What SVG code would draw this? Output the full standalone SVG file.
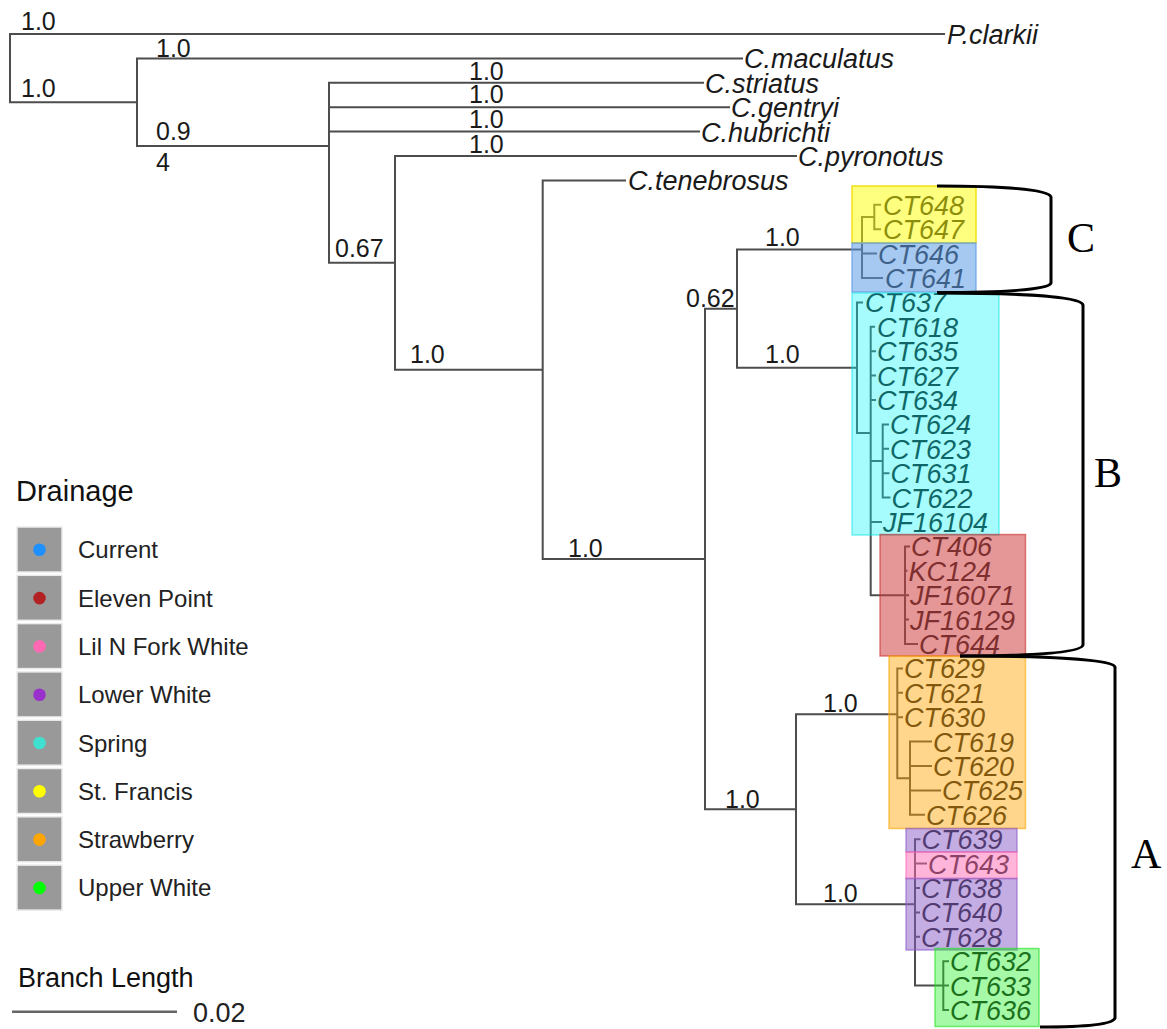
<svg xmlns="http://www.w3.org/2000/svg" width="1167" height="1029" viewBox="0 0 1167 1029">
<style>
.br{fill:none;stroke:#4d4d4d;stroke-width:2;stroke-linecap:square}
.tip{font-family:"Liberation Sans",Arial,sans-serif;font-style:italic;font-size:27px;fill:#1a1a1a}
.bs{font-family:"Liberation Sans",Arial,sans-serif;font-size:25px;fill:#1a1a1a}
.lg{font-family:"Liberation Sans",Arial,sans-serif;font-size:24px;fill:#222}
.lt{font-family:"Liberation Sans",Arial,sans-serif;font-size:29px;fill:#111}
.key{fill:#999;stroke:#ebebeb;stroke-width:1.5}
.hl{stroke-width:1.5}
.brk{fill:none;stroke:#000;stroke-width:3;stroke-linejoin:round}
.clade{font-family:"Liberation Serif","Times New Roman",serif;font-size:42px;fill:#000}
</style>
<rect width="1167" height="1029" fill="#fff"/>

<g id="connectors">
<path class="br" d="M10,34V102.26 M10,34H944 M10,102.26H137
M137,58.4V146.11 M137,58.4H742 M137,146.11H329
M329,82.8V262.83 M329,82.8H703 M329,107.2H729 M329,131.6H699 M329,262.83H395
M395,156V369.67 M395,156H796 M395,369.67H542.7
M542.7,180.4V558.93 M542.7,180.4H625 M542.7,558.93H705
M705,308.65V809.21 M705,308.65H737 M705,809.21H796
M737,249.53V367.76 M737,249.53H862 M737,367.76H857
M862,217V278 M862,217H874.3 M862,253.6H876 M862,278H882
M874.3,204.8V229.2 M874.3,204.8H880 M874.3,229.2H880
M857,302.4V433.11 M857,302.4H862 M857,433.11H870.7
M870.7,326.8V595.2 M870.7,326.8H874 M870.7,351.2H875 M870.7,375.6H875 M870.7,400H875 M870.7,461H882.7 M870.7,522H881 M870.7,595.2H905
M882.7,424.4V497.6 M882.7,424.4H888 M882.7,448.8H888 M882.7,473.2H888.5 M882.7,497.6H889.5
M905,546.4V644 M905,546.4H909 M905,570.8H906.5 M905,595.2H908 M905,619.6H908 M905,644H917
M796,714.15V904.27 M796,714.15H897.3 M796,904.27H915
M897.3,668.4V778.2 M897.3,668.4H902 M897.3,692.8H902 M897.3,717.2H902 M897.3,778.2H910
M910,741.6V814.8 M910,741.6H931 M910,766H931 M910,790.4H940 M910,814.8H924
M915,839.2V985.6 M915,839.2H919.5 M915,863.6H926 M915,888H919 M915,912.4H919 M915,936.8H919 M915,985.6H943.3
M943.3,961.2V1010 M943.3,961.2H948 M943.3,985.6H948 M943.3,1010H948"/>
</g>

<g id="support-values">
<text class="bs" x="21" y="29.5">1.0</text>
<text class="bs" x="21" y="97">1.0</text>
<text class="bs" x="156" y="56.5">1.0</text>
<text class="bs" x="156" y="139.5">0.9</text>
<text class="bs" x="156" y="171">4</text>
<text class="bs" x="469" y="80">1.0</text>
<text class="bs" x="469" y="103">1.0</text>
<text class="bs" x="469" y="127.5">1.0</text>
<text class="bs" x="469" y="152.5">1.0</text>
<text class="bs" x="335" y="257">0.67</text>
<text class="bs" x="410" y="363">1.0</text>
<text class="bs" x="568" y="556.5">1.0</text>
<text class="bs" x="686" y="306.5">0.62</text>
<text class="bs" x="765" y="246">1.0</text>
<text class="bs" x="765" y="363">1.0</text>
<text class="bs" x="823" y="711.5">1.0</text>
<text class="bs" x="725" y="808">1.0</text>
<text class="bs" x="823" y="901.5">1.0</text>
</g>

<g id="tip-P.clarkii"><text class="tip" x="947" y="44">P.clarkii</text></g>
<g id="tip-C.maculatus"><text class="tip" x="744" y="68.4">C.maculatus</text></g>
<g id="tip-C.striatus"><text class="tip" x="705" y="92.8">C.striatus</text></g>
<g id="tip-C.gentryi"><text class="tip" x="731" y="117.2">C.gentryi</text></g>
<g id="tip-C.hubrichti"><text class="tip" x="701" y="141.6">C.hubrichti</text></g>
<g id="tip-C.pyronotus"><text class="tip" x="798" y="166">C.pyronotus</text></g>
<g id="tip-C.tenebrosus"><text class="tip" x="628" y="190.4">C.tenebrosus</text></g>
<g id="tip-CT648"><text class="tip" x="883" y="214.8">CT648</text></g>
<g id="tip-CT647"><text class="tip" x="883" y="239.2">CT647</text></g>
<g id="tip-CT646"><text class="tip" x="878" y="263.6">CT646</text></g>
<g id="tip-CT641"><text class="tip" x="885" y="288">CT641</text></g>
<g id="tip-CT637"><text class="tip" x="865" y="312.4">CT637</text></g>
<g id="tip-CT618"><text class="tip" x="877" y="336.8">CT618</text></g>
<g id="tip-CT635"><text class="tip" x="877" y="361.2">CT635</text></g>
<g id="tip-CT627"><text class="tip" x="877" y="385.6">CT627</text></g>
<g id="tip-CT634"><text class="tip" x="877" y="410">CT634</text></g>
<g id="tip-CT624"><text class="tip" x="890" y="434.4">CT624</text></g>
<g id="tip-CT623"><text class="tip" x="890" y="458.8">CT623</text></g>
<g id="tip-CT631"><text class="tip" x="890.5" y="483.2">CT631</text></g>
<g id="tip-CT622"><text class="tip" x="891.5" y="507.6">CT622</text></g>
<g id="tip-JF16104"><text class="tip" x="883" y="532">JF16104</text></g>
<g id="tip-CT406"><text class="tip" x="911" y="556.4">CT406</text></g>
<g id="tip-KC124"><text class="tip" x="908.5" y="580.8">KC124</text></g>
<g id="tip-JF16071"><text class="tip" x="910" y="605.2">JF16071</text></g>
<g id="tip-JF16129"><text class="tip" x="910" y="629.6">JF16129</text></g>
<g id="tip-CT644"><text class="tip" x="919" y="654">CT644</text></g>
<g id="tip-CT629"><text class="tip" x="904" y="678.4">CT629</text></g>
<g id="tip-CT621"><text class="tip" x="904" y="702.8">CT621</text></g>
<g id="tip-CT630"><text class="tip" x="904" y="727.2">CT630</text></g>
<g id="tip-CT619"><text class="tip" x="933" y="751.6">CT619</text></g>
<g id="tip-CT620"><text class="tip" x="933" y="776">CT620</text></g>
<g id="tip-CT625"><text class="tip" x="942" y="800.4">CT625</text></g>
<g id="tip-CT626"><text class="tip" x="926" y="824.8">CT626</text></g>
<g id="tip-CT639"><text class="tip" x="921.5" y="849.2">CT639</text></g>
<g id="tip-CT643"><text class="tip" x="928" y="873.6">CT643</text></g>
<g id="tip-CT638"><text class="tip" x="921" y="898">CT638</text></g>
<g id="tip-CT640"><text class="tip" x="921" y="922.4">CT640</text></g>
<g id="tip-CT628"><text class="tip" x="921" y="946.8">CT628</text></g>
<g id="tip-CT632"><text class="tip" x="950" y="971.2">CT632</text></g>
<g id="tip-CT633"><text class="tip" x="950" y="995.6">CT633</text></g>
<g id="tip-CT636"><text class="tip" x="950" y="1020">CT636</text></g>

<g id="highlights">
<rect class="hl" x="852" y="186" width="124" height="57" fill="#ffff00" fill-opacity="0.5" stroke="#eedd00" stroke-opacity="0.9"/>
<rect class="hl" x="852" y="243" width="124" height="49" fill="#5c9ce6" fill-opacity="0.55" stroke="#5c9ce6" stroke-opacity="0.7"/>
<rect class="hl" x="852" y="293" width="147" height="242" fill="#00f5f5" fill-opacity="0.35" stroke="#00e5e5" stroke-opacity="0.5"/>
<rect class="hl" x="880" y="534.5" width="145.5" height="121.5" fill="#d04040" fill-opacity="0.55" stroke="#c83030" stroke-opacity="0.6"/>
<rect class="hl" x="889" y="656" width="136.5" height="172.5" fill="#ffa500" fill-opacity="0.45" stroke="#ffa500" stroke-opacity="0.6"/>
<rect class="hl" x="906" y="828.5" width="111" height="23.5" fill="#8a5cc8" fill-opacity="0.5" stroke="#8a5cc8" stroke-opacity="0.6"/>
<rect class="hl" x="906" y="852" width="111" height="26.5" fill="#ff69b4" fill-opacity="0.5" stroke="#ff69b4" stroke-opacity="0.6"/>
<rect class="hl" x="906" y="878.5" width="111" height="71.5" fill="#8a5cc8" fill-opacity="0.5" stroke="#8a5cc8" stroke-opacity="0.6"/>
<rect class="hl" x="935" y="948.5" width="104" height="78" fill="#20f020" fill-opacity="0.4" stroke="#20e020" stroke-opacity="0.6"/>
</g>

<g id="brackets">
<path class="brk" d="M937,186 C1000,186 1049,189 1051,197 V283 C1049,290 1000,292.5 937,292.5"/>
<path class="brk" d="M938,293 C1010,293 1081,296 1083,305 V645 C1081,653 1030,656 960,656"/>
<path class="brk" d="M960,656 C1040,656 1113,659 1115,667 V1018 C1113,1025 1080,1027 1040,1027"/>
<text class="clade" x="1067" y="252">C</text>
<text class="clade" x="1094" y="487">B</text>
<text class="clade" x="1131" y="868">A</text>
</g>

<g id="legend">
<text class="lt" x="16" y="501">Drainage</text>
<rect class="key" x="17" y="527" width="45" height="45"/>
<rect class="key" x="17" y="575.3" width="45" height="45"/>
<rect class="key" x="17" y="623.6" width="45" height="45"/>
<rect class="key" x="17" y="671.9" width="45" height="45"/>
<rect class="key" x="17" y="720.2" width="45" height="45"/>
<rect class="key" x="17" y="768.5" width="45" height="45"/>
<rect class="key" x="17" y="816.8" width="45" height="45"/>
<rect class="key" x="17" y="865.1" width="45" height="45"/>
<circle cx="39.5" cy="549.8" r="6.3" fill="#1e90ff"/>
<circle cx="39.5" cy="598.1" r="6.3" fill="#b22222"/>
<circle cx="39.5" cy="646.4" r="6.3" fill="#ff69b4"/>
<circle cx="39.5" cy="694.7" r="6.3" fill="#9932cc"/>
<circle cx="39.5" cy="743" r="6.3" fill="#40e0d0"/>
<circle cx="39.5" cy="791.3" r="6.3" fill="#ffff00"/>
<circle cx="39.5" cy="839.6" r="6.3" fill="#ffa500"/>
<circle cx="39.5" cy="887.9" r="6.3" fill="#00ff00"/>
<text class="lg" x="78" y="558.3">Current</text>
<text class="lg" x="78" y="606.6">Eleven Point</text>
<text class="lg" x="78" y="654.9">Lil N Fork White</text>
<text class="lg" x="78" y="703.2">Lower White</text>
<text class="lg" x="78" y="751.5">Spring</text>
<text class="lg" x="78" y="799.8">St. Francis</text>
<text class="lg" x="78" y="848.1">Strawberry</text>
<text class="lg" x="78" y="896.4">Upper White</text>
</g>

<g id="scale-bar">
<text x="18" y="987" font-family="Liberation Sans, Arial, sans-serif" font-size="27" fill="#111">Branch Length</text>
<line x1="12" y1="1011.7" x2="177" y2="1011.7" stroke="#666" stroke-width="2.5"/>
<text x="193" y="1021.5" font-family="Liberation Sans, Arial, sans-serif" font-size="27" fill="#222">0.02</text>
</g>
</svg>
